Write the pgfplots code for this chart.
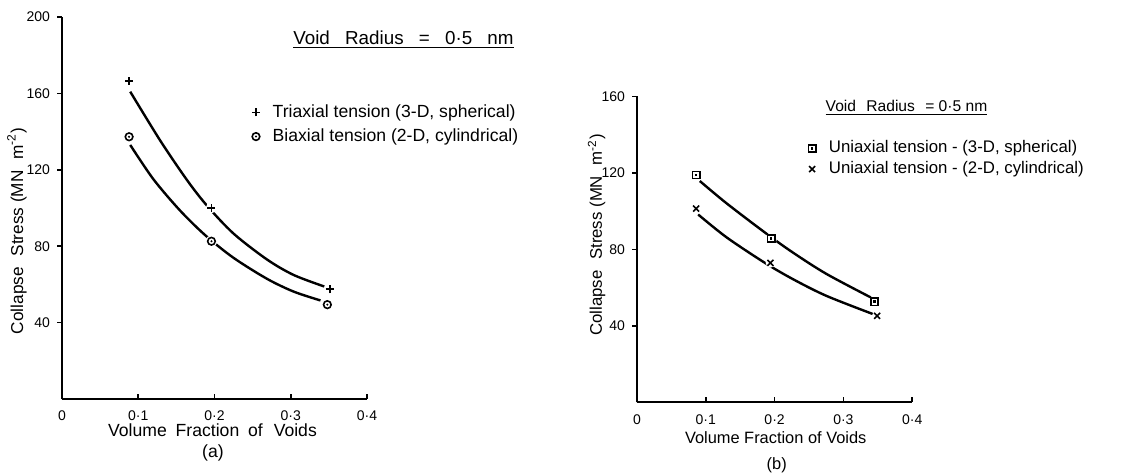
\documentclass[border=0pt]{standalone}
\usepackage{fontspec}
\setmainfont{Liberation Sans}
\usepackage{pgfplots}
\pgfplotsset{compat=1.18}

% circle with a dot, square with a dot; white disc behind to break the curve
\pgfdeclareplotmark{odot}{%
  \pgfsetfillcolor{white}%
  \pgfpathcircle{\pgfpointorigin}{1.5\pgfplotmarksize}\pgfusepathqfill
  \pgfsetfillcolor{black}%
  \pgfpathcircle{\pgfpointorigin}{\pgfplotmarksize}\pgfusepathqstroke
  \pgfpathcircle{\pgfpointorigin}{0.3\pgfplotmarksize}\pgfusepathqfill}
\pgfdeclareplotmark{sqdot}{%
  \pgfsetfillcolor{white}%
  \pgfpathcircle{\pgfpointorigin}{1.6\pgfplotmarksize}\pgfusepathqfill
  \pgfsetfillcolor{black}%
  \pgfpathrectangle{\pgfpoint{-\pgfplotmarksize}{-\pgfplotmarksize}}{\pgfpoint{2\pgfplotmarksize}{2\pgfplotmarksize}}\pgfusepathqstroke
  \pgfpathrectangle{\pgfpoint{-0.35\pgfplotmarksize}{-0.35\pgfplotmarksize}}{\pgfpoint{0.7\pgfplotmarksize}{0.7\pgfplotmarksize}}\pgfusepathqfill}
\pgfdeclareplotmark{plusw}{%
  \pgfsetfillcolor{white}%
  \pgfpathcircle{\pgfpointorigin}{1.4\pgfplotmarksize}\pgfusepathqfill
  \pgfpathmoveto{\pgfpoint{-\pgfplotmarksize}{0pt}}\pgfpathlineto{\pgfpoint{\pgfplotmarksize}{0pt}}%
  \pgfpathmoveto{\pgfpoint{0pt}{-\pgfplotmarksize}}\pgfpathlineto{\pgfpoint{0pt}{\pgfplotmarksize}}%
  \pgfusepathqstroke}
\pgfdeclareplotmark{xw}{%
  \pgfsetfillcolor{white}%
  \pgfpathcircle{\pgfpointorigin}{1.6\pgfplotmarksize}\pgfusepathqfill
  \pgfpathmoveto{\pgfpoint{-\pgfplotmarksize}{-\pgfplotmarksize}}\pgfpathlineto{\pgfpoint{\pgfplotmarksize}{\pgfplotmarksize}}%
  \pgfpathmoveto{\pgfpoint{-\pgfplotmarksize}{\pgfplotmarksize}}\pgfpathlineto{\pgfpoint{\pgfplotmarksize}{-\pgfplotmarksize}}%
  \pgfusepathqstroke}

\pgfplotsset{
  voidax/.style={
    scale only axis,
    axis lines=left,
    axis line style={-, line width=0.9pt},
    tick align=outside,
    major tick length=2.5pt,
    tick style={line width=0.8pt, black},
    x tick style={yshift=2.5pt},
    xmin=0, xmax=0.4, ymin=0,
    xtick={0,0.1,0.2,0.3,0.4},
    xticklabels={0,0·1,0·2,0·3,0·4},
    ticklabel style={font=\fontsize{7}{8}\selectfont},
    /pgf/number format/assume math mode=true,
    clip=false,
    legend style={draw=none, fill=none, inner sep=0pt, anchor=west,
      row sep=2.2pt, nodes={inner sep=1pt},
      /tikz/every odd column/.append style={column sep=4.5pt}},
    legend cell align=left,
  },
  mleg/.style={legend image code/.code={\draw[##1] plot coordinates {(0pt,0pt)};}},
  fitline/.style={no marks, smooth, line width=1.2pt, black, forget plot},
}

\begin{document}
\begin{tikzpicture}

% (a)
\begin{axis}[voidax,
  at={(31pt,36.5pt)}, anchor=south west,
  width=152.5pt, height=191pt,
  ymax=200, ytick={40,80,120,160,200},
  legend style={at={(axis description cs:0.616,0.7186)},
    font=\fontsize{8.8}{10}\selectfont},
]
\addplot[fitline] coordinates {
  (0.0895,160.9) (0.129,135.2) (0.164,114.6) (0.190,101.3) (0.225,86.6)
  (0.269,73.0) (0.304,64.9) (0.344,58.9)
};
\addplot[fitline] coordinates {
  (0.0895,133.0) (0.120,115.0) (0.155,98.6) (0.188,85.7) (0.225,73.9)
  (0.269,62.9) (0.304,56.2) (0.339,51.6)
};
\addplot[only marks, mark=plusw, mark size=2pt, line width=0.9pt, black, mleg]
  coordinates {(0.088,166.5) (0.196,100.2) (0.351,57.4)};
\addlegendentry{Triaxial tension (3-D, spherical)}
\addplot[only marks, mark=odot, mark size=1.9pt, line width=0.8pt, black, mleg]
  coordinates {(0.088,137.3) (0.196,82.6) (0.348,49.4)};
\addlegendentry{Biaxial tension (2-D, cylindrical)}
\end{axis}

% (b)
\begin{axis}[voidax,
  at={(318.5pt,34.85pt)}, anchor=south west,
  width=137.6pt, height=153pt,
  ymax=160, ytick={40,80,120,160},
  legend style={at={(axis description cs:0.614,0.796)},
    font=\fontsize{8.4}{10}\selectfont, row sep=0.8pt},
]
\addplot[fitline] coordinates {
  (0.0913,115.7) (0.130,104.1) (0.188,88.2) (0.2266,78.3) (0.275,67.2) (0.340,54.8)
};
\addplot[fitline] coordinates {
  (0.0889,98.2) (0.130,86.3) (0.1855,73.0) (0.2266,64.4) (0.275,55.7) (0.3425,46.2)
};
\addplot[only marks, mark=sqdot, mark size=1.8pt, line width=0.8pt, black, mleg]
  coordinates {(0.086,118.8) (0.195,85.6) (0.345,52.6)};
\addlegendentry{Uniaxial tension - (3-D, spherical)}
\addplot[only marks, mark=xw, mark size=1.5pt, line width=0.8pt, black, mleg]
  coordinates {(0.086,101.3) (0.194,72.9) (0.349,45.2)};
\addlegendentry{Uniaxial tension - (2-D, cylindrical)}
\end{axis}

% titles and labels
\node[font=\fontsize{9.4}{11}\selectfont] at (201.75pt,216pt)
  {\underline{Void\hspace{5pt} Radius\hspace{5pt} =\hspace{5pt} 0·5\hspace{5pt} nm}};
\node[font=\fontsize{7.8}{9}\selectfont] at (453.25pt,182pt)
  {\underline{Void\hspace{3pt} Radius\hspace{3pt} = 0·5 nm}};

\node[rotate=90, font=\fontsize{8.6}{10}\selectfont] at (8.5pt,120.5pt)
  {Collapse\hspace{3pt} Stress (MN\hspace{3pt} m\textsuperscript{-2})};
\node[rotate=90, font=\fontsize{8.4}{10}\selectfont] at (298.35pt,118.5pt)
  {Collapse\hspace{3pt} Stress (MN\hspace{3pt} m\textsuperscript{-2})};

\node[font=\fontsize{8.8}{10}\selectfont] at (106.25pt,21pt) {Volume\hspace{2pt} Fraction\hspace{2pt} of\hspace{3pt} Voids};
\node[font=\fontsize{8.8}{10}\selectfont] at (106.5pt,9.5pt) {(a)};
\node[font=\fontsize{8.2}{10}\selectfont] at (387.85pt,17pt) {Volume Fraction of Voids};
\node[font=\fontsize{8.2}{10}\selectfont] at (388.35pt,3.5pt) {(b)};

\pgfresetboundingbox
\path (0pt,0pt) rectangle (567.5pt,236pt);
\end{tikzpicture}
\end{document}
